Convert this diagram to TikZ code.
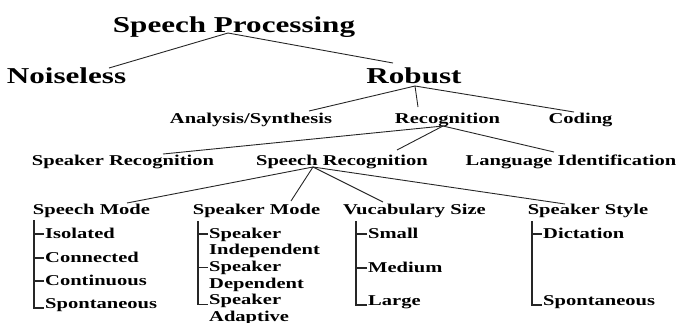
\documentclass[tikz,border=0pt]{standalone}
\usepackage{fontspec}
\setmainfont{Liberation Serif}[FakeStretch=1.37]
\begin{document}
\begin{tikzpicture}[x=1pt,y=-1pt,
  big/.style={inner sep=0pt,anchor=base,font=\fontsize{22.7}{27}\selectfont\bfseries},
  mid/.style={inner sep=0pt,anchor=base,font=\fontsize{15}{18}\selectfont\bfseries},
  leaf/.style={inner sep=0pt,anchor=base west,align=left,font=\fontsize{15}{16.7}\selectfont\bfseries},
  edge/.style={draw=black!85,line width=0.9pt},
  bar/.style={draw=black!85,line width=1.1pt}]
\useasboundingbox (0,0) rectangle (678,322);
% level 0 and 1
\node[big] (sp) at (234,32) {Speech Processing};
\node[big] (nl) at (66.5,83) {Noiseless};
\node[big] (rb) at (414,83) {Robust};
% level 2
\node[mid] (an) at (251,123) {Analysis/Synthesis};
\node[mid] (rc) at (447.5,123) {Recognition};
\node[mid] (cd) at (580.5,123) {Coding};
% level 3
\node[mid] (skr) at (123,165) {Speaker Recognition};
\node[mid] (spr) at (342,165) {Speech Recognition};
\node[mid] (li) at (571,165) {Language Identification};
% level 4
\node[mid] (sm) at (91.5,214) {Speech Mode};
\node[mid] (km) at (256.5,214) {Speaker Mode};
\node[mid] (vs) at (414.5,214) {Vucabulary Size};
\node[mid] (ks) at (588,214) {Speaker Style};
% hubs and ends
\coordinate (spH) at (228,33);
\coordinate (nlE) at (109,68);
\coordinate (rbE) at (393,63);
\coordinate (rbH) at (415,86);
\coordinate (anE) at (309,111);
\coordinate (rcE) at (418,107);
\coordinate (cdE) at (574,112);
\coordinate (rcH) at (443,126);
\coordinate (skrE) at (163,154);
\coordinate (sprE) at (397,150);
\coordinate (liE) at (554,152);
\coordinate (sprH) at (313,167);
\coordinate (smE) at (127,203);
\coordinate (kmE) at (291,201);
\coordinate (vsE) at (383,202);
\coordinate (ksE) at (565,204);
\draw[edge] (nlE) -- (spH) -- (rbE);
\draw[edge] (anE) -- (rbH) -- (cdE);
\draw[edge] (rbH) -- (rcE);
\draw[edge] (skrE) -- (rcH) -- (liE);
\draw[edge] (rcH) -- (sprE);
\draw[edge] (smE) -- (sprH) -- (ksE);
\draw[edge] (kmE) -- (sprH) -- (vsE);
% Speech Mode leaves
\coordinate (smT) at (34,220);
\node[leaf] (l1) at (45,238) {Isolated};
\node[leaf] (l2) at (45,262) {Connected};
\node[leaf] (l3) at (45,285) {Continuous};
\node[leaf] (l4) at (45,308) {Spontaneous};
\draw[bar] (smT) |- ([xshift=-0.8pt]l4.base west);
\foreach \n in {l1,l2,l3} \draw[bar] ([xshift=-0.8pt,yshift=4pt]\n.base west) -- ++(-10.2,0);
% Speaker Mode leaves (base anchor = last line)
\coordinate (kmT) at (198,221);
\node[leaf] (m1) at (209,254.7) {Speaker\\Independent};
\node[leaf] (m2) at (209,288) {Speaker\\Dependent};
\node[leaf] (m3) at (209,321.2) {Speaker\\Adaptive};
\draw[bar] (kmT) |- ([xshift=-0.8pt,yshift=16.7pt]m3.base west);
\foreach \n in {m1,m2} \draw[bar] ([xshift=-0.8pt,yshift=20.7pt]\n.base west) -- ++(-10.2,0);
% Vocabulary leaves
\coordinate (vsT) at (356,221);
\node[leaf] (v1) at (368,238) {Small};
\node[leaf] (v2) at (368,272) {Medium};
\node[leaf] (v3) at (368,305) {Large};
\draw[bar] (vsT) |- ([xshift=-0.8pt]v3.base west);
\foreach \n in {v1,v2} \draw[bar] ([xshift=-0.8pt,yshift=4pt]\n.base west) -- ++(-11.2,0);
% Speaker Style leaves
\coordinate (ksT) at (532,221);
\node[leaf] (s1) at (543,238) {Dictation};
\node[leaf] (s2) at (543,305) {Spontaneous};
\draw[bar] (ksT) |- ([xshift=-0.8pt]s2.base west);
\draw[bar] ([xshift=-0.8pt,yshift=4pt]s1.base west) -- ++(-10.2,0);
\end{tikzpicture}
\end{document}
